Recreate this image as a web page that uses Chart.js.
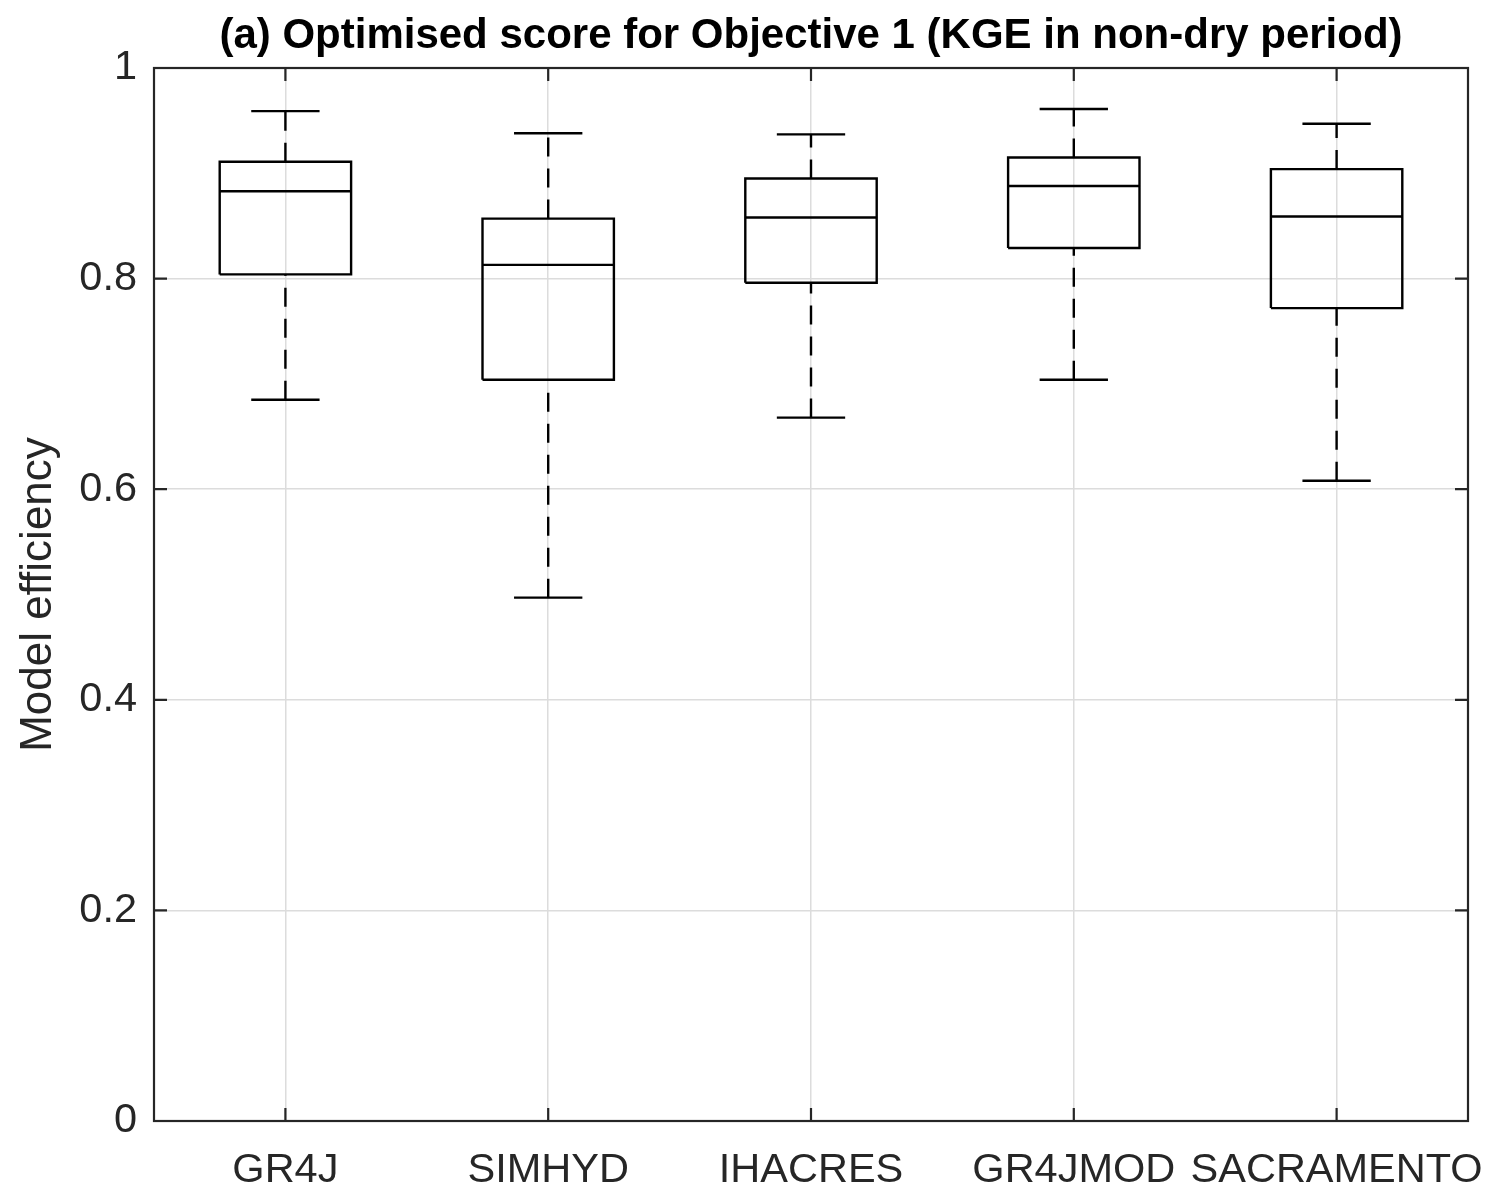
<!DOCTYPE html>
<html>
<head>
<meta charset="utf-8">
<title>Optimised score for Objective 1</title>
<script src="https://cdn.jsdelivr.net/npm/chart.js@4"></script>
<style>
  html, body { margin: 0; padding: 0; background: #fff; }
  #wrap { width: 1491px; height: 1189px; }
</style>
</head>
<body>
<div id="wrap"><canvas id="boxChart" width="1491" height="1189"></canvas></div>
<script>
const models = ['GR4J', 'SIMHYD', 'IHACRES', 'GR4JMOD', 'SACRAMENTO'];
const whiskerLow  = [0.685, 0.497, 0.668, 0.704, 0.608];
const q1          = [0.804, 0.704, 0.796, 0.829, 0.772];
const median      = [0.883, 0.813, 0.858, 0.888, 0.859];
const q3          = [0.911, 0.857, 0.895, 0.915, 0.904];
const whiskerHigh = [0.959, 0.938, 0.937, 0.961, 0.947];
const yTickLabels = ['0', '0.2', '0.4', '0.6', '0.8', '1'];
const chartTitle = '(a) Optimised score for Objective 1 (KGE in non-dry period)';

const FONT = "'Liberation Sans', Arial, Helvetica, sans-serif";
const INK = '#262626';
const BOX_HALF = 0.25;
const CAP_HALF = 0.13;

// box outline, median and caps (solid) + whiskers (dashed) for each model
function buildDatasets() {
  const sets = [];
  models.forEach((name, i) => {
    const x = i + 1;
    sets.push({
      label: name,
      data: [
        { x: x - BOX_HALF, y: q1[i] }, { x: x + BOX_HALF, y: q1[i] },
        { x: x + BOX_HALF, y: q3[i] }, { x: x - BOX_HALF, y: q3[i] },
        { x: x - BOX_HALF, y: q1[i] }, { x: x, y: null },
        { x: x - BOX_HALF, y: median[i] }, { x: x + BOX_HALF, y: median[i] }, { x: x, y: null },
        { x: x - CAP_HALF, y: whiskerHigh[i] }, { x: x + CAP_HALF, y: whiskerHigh[i] }, { x: x, y: null },
        { x: x - CAP_HALF, y: whiskerLow[i] }, { x: x + CAP_HALF, y: whiskerLow[i] }
      ],
      borderColor: '#000',
      borderWidth: 2.4,
      spanGaps: false
    });
    sets.push({
      label: name + ' upper whisker',
      data: [{ x: x, y: q3[i] }, { x: x, y: whiskerHigh[i] }],
      borderColor: '#000',
      borderWidth: 2.4,
      borderDash: [19, 12]
    });
    sets.push({
      label: name + ' lower whisker',
      data: [{ x: x, y: whiskerLow[i] }, { x: x, y: q1[i] }],
      borderColor: '#000',
      borderWidth: 2.4,
      borderDash: [19, 12]
    });
  });
  return sets;
}

// matlab style frame with inward ticks on all four sides, title centred on the axes
const axesFrame = {
  id: 'axesFrame',
  afterDatasetsDraw(chart) {
    const { ctx, chartArea: a, scales } = chart;
    const len = 13;
    ctx.save();
    ctx.strokeStyle = INK;
    ctx.lineWidth = 2.2;
    ctx.beginPath();
    models.forEach((m, i) => {
      const px = scales.x.getPixelForValue(i + 1);
      ctx.moveTo(px, a.bottom); ctx.lineTo(px, a.bottom - len);
      ctx.moveTo(px, a.top); ctx.lineTo(px, a.top + len);
    });
    scales.y.ticks.forEach(t => {
      const py = scales.y.getPixelForValue(t.value);
      ctx.moveTo(a.left, py); ctx.lineTo(a.left + len, py);
      ctx.moveTo(a.right, py); ctx.lineTo(a.right - len, py);
    });
    ctx.stroke();
    ctx.strokeRect(a.left, a.top, a.right - a.left, a.bottom - a.top);

    ctx.fillStyle = '#000';
    ctx.font = 'bold 42px ' + FONT;
    ctx.textAlign = 'center';
    ctx.textBaseline = 'alphabetic';
    ctx.fillText(chartTitle, (a.left + a.right) / 2, a.top - 20);
    ctx.restore();
  }
};

new Chart(document.getElementById('boxChart'), {
  type: 'line',
  data: { datasets: buildDatasets() },
  options: {
    responsive: false,
    animation: false,
    devicePixelRatio: 1,
    layout: { padding: { left: 0, right: 23, top: 68, bottom: 0 } },
    elements: {
      point: { radius: 0, hoverRadius: 0 },
      line: { tension: 0, fill: false, borderCapStyle: 'butt' }
    },
    plugins: {
      legend: { display: false },
      tooltip: { enabled: false },
      title: { display: false }
    },
    scales: {
      x: {
        type: 'linear',
        min: 0.5,
        max: 5.5,
        afterBuildTicks: s => { s.ticks = models.map((m, i) => ({ value: i + 1 })); },
        afterFit: s => { s.height = 68; s.paddingLeft = 0; s.paddingRight = 0; },
        ticks: {
          autoSkip: false,
          maxRotation: 0,
          padding: 25,
          color: INK,
          font: { family: FONT, size: 41.5 },
          callback: v => models[v - 1]
        },
        grid: { color: '#dcdcdc', lineWidth: 1.5, drawTicks: false },
        border: { display: false }
      },
      y: {
        min: 0,
        max: 1,
        ticks: {
          stepSize: 0.2,
          padding: 17,
          color: INK,
          font: { family: FONT, size: 41.5 },
          callback: (v, idx) => yTickLabels[idx]
        },
        afterFit: s => { s.width = 154; s.paddingTop = 0; s.paddingBottom = 0; },
        grid: { color: '#dcdcdc', lineWidth: 1.5, drawTicks: false },
        border: { display: false },
        title: {
          display: true,
          text: 'Model efficiency',
          color: INK,
          font: { family: FONT, size: 44, lineHeight: 1.2 },
          padding: { top: 12, bottom: 0 }
        }
      }
    }
  },
  plugins: [axesFrame]
});
</script>
</body>
</html>
